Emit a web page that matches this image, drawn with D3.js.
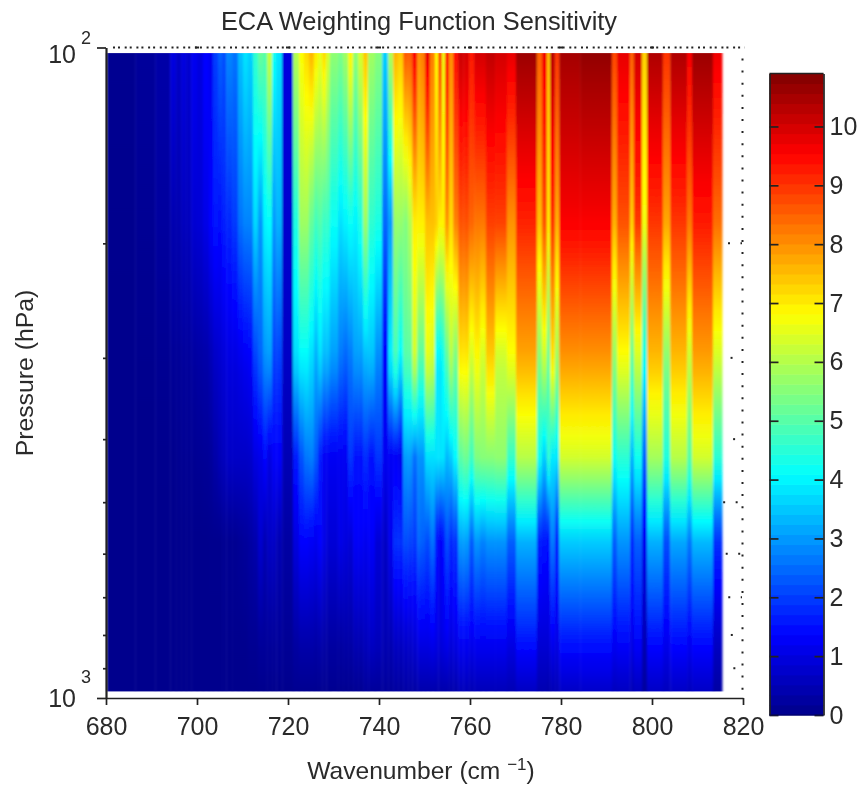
<!DOCTYPE html>
<html>
<head>
<meta charset="utf-8">
<script src="https://cdn.jsdelivr.net/npm/d3@7"></script>
<style>
  html, body { margin: 0; padding: 0; background: #fff; }
  svg { display: block; }
  text { font-family: "Liberation Sans", Arial, sans-serif; fill: #2a2a2a; }
</style>
</head>
<body>
<div id="chart"></div>
<script>
const titleText = 'ECA Weighting Function Sensitivity'
const yLabelText = 'Pressure (hPa)'
const xTicks = [680, 700, 720, 740, 760, 780, 800, 820]
const yMinorTicks = [200, 300, 400, 500, 600, 700, 800, 900]
const colorTicks = [0, 1, 2, 3, 4, 5, 6, 7, 8, 9, 10]
const colorMax = 10.9

// channel edges (cm-1), one more than the number of channels
const channelEdges = [
  680.2, 686.4, 690.8, 694.1, 695.4, 696.5, 697.6, 698.7, 700.0, 701.3,
  702.6, 703.5, 704.6, 705.5, 706.4, 707.7, 709.0, 710.1, 711.2, 712.3,
  713.4, 714.5, 715.4, 716.5, 717.4, 718.7, 721.1, 722.4, 723.5, 724.6,
  725.7, 726.6, 727.5, 728.4, 729.2, 731.0, 732.1, 733.2, 734.3, 735.4,
  736.5, 737.6, 739.1, 740.7, 742.0, 743.1, 744.2, 745.3, 746.4, 747.3,
  748.4, 749.2, 750.1, 751.2, 752.3, 753.0, 753.8, 754.5, 755.4, 756.3,
  757.4, 758.5, 759.8, 760.9, 762.2, 763.5, 765.5, 768.1, 770.1, 774.7,
  775.8, 776.9, 777.6, 778.7, 779.6, 784.2, 791.2, 792.3, 795.2, 796.0,
  797.8, 798.9, 802.4, 804.0, 807.7, 808.8, 813.4, 815.4
]

// pressure levels (hPa) the rows below were read at
const levels = [102, 184, 303, 430, 570, 814, 977]

const level102 = [
  0.08, 0.2, 0.35, 1.0, 0.7, 1.0, 0.8, 1.2, 1.0, 1.4,
  1.2, 2.0, 2.4, 2.2, 2.8, 2.6, 3.4, 3.8, 3.6, 4.6,
  5.2, 5.0, 6.2, 4.2, 3.8, 1.0, 6.0, 6.8, 7.2, 7.6,
  7.0, 6.6, 7.2, 6.4, 5.6, 5.4, 5.8, 6.9, 5.6, 6.4,
  7.4, 5.8, 5.5, 3.6, 6.0, 7.6, 7.4, 8.6, 8.6, 9.6,
  8.0, 8.2, 9.8, 8.2, 6.8, 9.0, 6.6, 9.5, 8.0, 9.4,
  10.1, 10.0, 9.3, 10.0, 10.0, 10.2, 10.0, 9.8, 10.6, 8.5,
  9.7, 7.5, 10.3, 9.0, 10.5, 10.7, 8.8, 9.8, 8.5, 10.0,
  7.3, 10.4, 9.0, 10.4, 9.6, 10.6, 9.7
]
const level184 = [
  0.05, 0.12, 0.25, 0.45, 0.45, 0.6, 0.6, 0.85, 0.9, 1.1,
  1.4, 1.6, 1.5, 1.7, 1.8, 2.0, 2.6, 2.8, 2.8, 3.7,
  3.0, 4.0, 4.1, 3.0, 3.3, 0.8, 4.4, 5.8, 5.8, 5.2,
  4.8, 5.0, 4.7, 4.7, 4.2, 3.8, 4.0, 4.2, 4.0, 4.4,
  5.8, 4.6, 4.4, 2.5, 3.0, 5.7, 5.7, 5.5, 6.0, 7.0,
  7.0, 7.0, 7.5, 7.5, 7.4, 7.0, 7.0, 8.0, 7.2, 8.2,
  8.7, 8.7, 8.5, 8.3, 8.3, 8.9, 8.9, 8.0, 9.2, 7.5,
  8.7, 7.0, 9.0, 7.7, 9.6, 9.6, 7.7, 8.7, 7.3, 9.0,
  6.7, 9.0, 7.8, 9.0, 8.3, 9.3, 8.4
]
const level303 = [
  0.03, 0.05, 0.1, 0.15, 0.15, 0.2, 0.2, 0.25, 0.3, 0.35,
  0.5, 0.7, 0.8, 0.9, 1.0, 1.0, 1.1, 1.2, 1.3, 2.0,
  2.4, 2.9, 3.0, 2.0, 2.0, 0.7, 3.7, 4.0, 4.0, 3.7,
  3.2, 3.7, 3.3, 3.3, 3.0, 2.6, 2.4, 2.6, 3.0, 3.0,
  3.3, 3.4, 2.8, 1.3, 4.0, 4.8, 4.0, 5.0, 5.0, 6.3,
  5.0, 5.0, 6.5, 6.3, 3.9, 3.8, 4.2, 5.0, 6.0, 5.3,
  7.0, 7.0, 6.3, 6.8, 6.3, 7.3, 6.2, 6.7, 7.7, 5.5,
  6.2, 5.0, 7.0, 5.7, 7.9, 7.9, 5.6, 6.7, 5.0, 6.3,
  4.2, 7.5, 5.5, 7.5, 6.2, 7.8, 6.3
]
const level430 = [
  0.03, 0.03, 0.05, 0.05, 0.08, 0.1, 0.1, 0.1, 0.12, 0.15,
  0.2, 0.35, 0.5, 0.6, 0.7, 0.7, 0.7, 0.7, 0.75, 1.0,
  1.1, 1.4, 1.0, 1.3, 1.3, 0.5, 1.6, 2.2, 2.6, 2.7,
  2.3, 1.6, 1.2, 1.2, 1.2, 1.2, 1.2, 1.9, 1.5, 1.5,
  1.8, 1.5, 1.9, 1.2, 1.2, 1.2, 1.1, 3.0, 3.0, 2.5,
  2.9, 2.9, 3.7, 3.7, 3.8, 3.8, 3.8, 3.3, 3.5, 4.0,
  5.0, 5.2, 4.7, 5.4, 5.5, 5.5, 5.6, 4.6, 6.0, 4.2,
  3.5, 4.6, 3.8, 3.8, 6.3, 6.3, 4.2, 4.5, 3.2, 4.2,
  2.4, 5.8, 4.4, 6.0, 5.0, 6.3, 4.5
]
const level570 = [
  0.03, 0.03, 0.03, 0.03, 0.03, 0.03, 0.03, 0.03, 0.03, 0.03,
  0.05, 0.05, 0.05, 0.1, 0.1, 0.1, 0.15, 0.2, 0.3, 0.4,
  0.8, 0.5, 0.7, 0.7, 0.5, 0.3, 1.0, 1.4, 1.4, 1.3,
  1.2, 1.4, 1.1, 0.9, 0.9, 1.1, 1.0, 0.9, 1.3, 1.3,
  1.2, 1.3, 0.9, 0.7, 1.2, 1.9, 1.9, 2.2, 2.1, 2.0,
  2.5, 2.4, 2.2, 2.6, 1.5, 1.3, 1.5, 2.2, 1.8, 1.9,
  3.1, 3.1, 2.4, 3.0, 2.8, 3.0, 3.0, 2.4, 3.3, 1.7,
  1.6, 1.5, 2.7, 1.6, 3.6, 3.6, 2.4, 3.0, 1.7, 2.4,
  1.2, 3.3, 2.2, 3.2, 2.7, 3.4, 1.9
]
const level814 = [
  0.03, 0.03, 0.03, 0.03, 0.03, 0.03, 0.03, 0.03, 0.03, 0.03,
  0.03, 0.03, 0.03, 0.05, 0.05, 0.05, 0.05, 0.05, 0.1, 0.1,
  0.2, 0.2, 0.2, 0.2, 0.2, 0.15, 0.3, 0.4, 0.4, 0.4,
  0.35, 0.4, 0.35, 0.3, 0.3, 0.3, 0.35, 0.35, 0.5, 0.5,
  0.6, 0.7, 0.6, 0.5, 0.5, 0.7, 0.7, 0.8, 0.8, 0.9,
  1.1, 1.1, 1.1, 1.2, 1.1, 1.0, 1.1, 1.2, 1.0, 1.1,
  1.3, 1.3, 1.2, 1.3, 1.3, 1.3, 1.3, 1.1, 1.6, 0.9,
  0.9, 0.9, 1.2, 1.1, 1.6, 1.6, 1.3, 1.4, 1.1, 1.4,
  0.5, 1.5, 1.2, 1.5, 1.3, 1.5, 0.7
]
const level977 = [
  0.03, 0.03, 0.03, 0.03, 0.03, 0.03, 0.03, 0.03, 0.03, 0.03,
  0.03, 0.03, 0.03, 0.03, 0.03, 0.03, 0.03, 0.03, 0.03, 0.03,
  0.05, 0.05, 0.05, 0.05, 0.05, 0.05, 0.08, 0.08, 0.08, 0.08,
  0.08, 0.08, 0.08, 0.08, 0.08, 0.08, 0.08, 0.08, 0.1, 0.1,
  0.2, 0.2, 0.2, 0.2, 0.2, 0.25, 0.25, 0.3, 0.3, 0.3,
  0.4, 0.4, 0.4, 0.4, 0.4, 0.4, 0.4, 0.4, 0.4, 0.4,
  0.55, 0.55, 0.5, 0.55, 0.55, 0.55, 0.55, 0.5, 0.65, 0.45,
  0.45, 0.4, 0.5, 0.5, 0.7, 0.75, 0.6, 0.65, 0.5, 0.6,
  0.25, 0.7, 0.6, 0.7, 0.6, 0.7, 0.3
]
const levelRows = [level102, level184, level303, level430, level570, level814, level977]

const width = 859
const height = 787
const axisColor = '#222'

const xScale = d3.scaleLinear().domain([680, 820]).range([106, 743])
const yScale = d3.scaleLog().domain([1000, 100]).range([698, 47.5])
const cScale = d3.scaleLinear().domain([0, colorMax]).range([715, 73.5])

// jet
const jet = d3.scaleLinear()
  .domain([0, 0.125, 0.375, 0.625, 0.875, 1].map(t => t * colorMax))
  .range(['#00008a', '#0000ff', '#00ffff', '#ffff00', '#ff0000', '#800000'])
  .clamp(true)

const svg = d3.select('#chart').append('svg')
  .attr('width', width)
  .attr('height', height)

const defs = svg.append('defs')
const blur = defs.append('filter')
  .attr('id', 'soft')
  .attr('x', '-2%').attr('width', '104%')
  .attr('y', '-2%').attr('height', '104%')
blur.append('feGaussianBlur').attr('stdDeviation', '1 0.4')
defs.append('filter')
  .attr('id', 'softText')
  .append('feGaussianBlur').attr('stdDeviation', 0.35)

//
// heat map, one vertically shaded rect per channel
const imageTop = levels[0]
const imageBottom = levels[levels.length - 1]
const shadeSteps = d3.range(0, 1.0001, 1 / 30)
const channels = channelEdges.slice(0, -1).map((edge, i) => ({
  id: i,
  x0: edge,
  x1: channelEdges[i + 1],
  profile: d3.scaleLog().domain(levels).range(levelRows.map(row => row[i]))
}))

const gradients = defs.selectAll('linearGradient')
  .data(channels)
  .join('linearGradient')
  .attr('id', d => `channel${d.id}`)
  .attr('gradientUnits', 'userSpaceOnUse')
  .attr('x1', 0).attr('x2', 0)
  .attr('y1', yScale(imageTop))
  .attr('y2', yScale(imageBottom))

gradients.selectAll('stop')
  .data(d => shadeSteps.map(t => {
    const p = yScale.invert(yScale(imageTop) + t * (yScale(imageBottom) - yScale(imageTop)))
    return { t, color: jet(d.profile(p)) }
  }))
  .join('stop')
  .attr('offset', d => d.t)
  .attr('stop-color', d => d.color)

svg.append('g')
  .attr('filter', 'url(#soft)')
  .selectAll('rect')
  .data(channels)
  .join('rect')
  .attr('x', d => xScale(d.x0))
  .attr('y', yScale(imageTop))
  .attr('width', d => xScale(d.x1) - xScale(d.x0) + 0.4)
  .attr('height', yScale(imageBottom) - yScale(imageTop))
  .attr('fill', d => `url(#channel${d.id})`)

//
// dotted box and grid remains
const dotted = svg.append('g')
  .attr('stroke', '#222')
  .attr('stroke-width', 2)
  .attr('fill', 'none')

// two dotted lines share the top edge, which is why the dots come in pairs
dotted.selectAll('line.top')
  .data([0, 5])
  .join('line')
  .attr('class', 'top')
  .attr('x1', d => xScale(680) + 7 + d)
  .attr('x2', xScale(820) + 2)
  .attr('y1', yScale(100))
  .attr('y2', yScale(100))
  .attr('stroke-dasharray', '2 9.7')

dotted.append('line')
  .attr('x1', xScale(820) - 0.5)
  .attr('x2', xScale(820) - 0.5)
  .attr('y1', yScale(100) + 11)
  .attr('y2', yScale(1000))
  .attr('stroke-dasharray', '2 10.1')

dotted.selectAll('line.xgrid')
  .data(xTicks.slice(1, -1))
  .join('line')
  .attr('class', 'xgrid')
  .attr('x1', d => xScale(d) - 2)
  .attr('x2', d => xScale(d) + 2)
  .attr('y1', yScale(100))
  .attr('y2', yScale(100))

// dotted minor grid, only visible to the right of the image
dotted.selectAll('line.ygrid')
  .data(yMinorTicks)
  .join('line')
  .attr('class', 'ygrid')
  .attr('x1', (d, i) => 722.5 + (5.5 + 2.55 * i) % 12.5)
  .attr('x2', xScale(820) - 1)
  .attr('y1', d => yScale(d))
  .attr('y2', d => yScale(d))
  .attr('stroke-dasharray', '2 10.5')

//
// axes
function styleAxis (g) {
  g.selectAll('path, line').attr('stroke', axisColor).attr('stroke-width', 1.7)
  g.selectAll('text').attr('font-size', 25).attr('fill', '#2a2a2a')
  g.attr('font-family', null)
}

svg.append('g')
  .attr('transform', `translate(0,${yScale(1000)})`)
  .call(d3.axisBottom(xScale).tickValues(xTicks).tickSize(7).tickSizeOuter(0).tickPadding(12))
  .call(styleAxis)

const yAxisMajor = svg.append('g')
  .attr('transform', `translate(${xScale(680)},0)`)
  .call(d3.axisLeft(yScale).tickValues([100, 1000]).tickSize(9).tickSizeOuter(0).tickPadding(21).tickFormat(() => '10'))
  .call(styleAxis)

yAxisMajor.selectAll('.tick text')
  .attr('dy', (d) => d === 100 ? '0.6em' : '0.32em')

yAxisMajor.selectAll('.tick')
  .append('text')
  .attr('x', -20)
  .attr('y', d => d === 100 ? -10 : -21)
  .attr('text-anchor', 'middle')
  .attr('font-size', 18)
  .attr('dy', '0.32em')
  .text(d => d === 100 ? '2' : '3')

svg.append('g')
  .attr('transform', `translate(${xScale(680)},0)`)
  .call(d3.axisLeft(yScale).tickValues(yMinorTicks).tickSize(3).tickSizeOuter(0).tickFormat(''))
  .call(styleAxis)

//
// colour bar
const barLeft = 769.5
const barRight = 823.5
const barSteps = d3.range(64)

svg.append('g')
  .selectAll('rect')
  .data(barSteps)
  .join('rect')
  .attr('x', barLeft)
  .attr('width', barRight - barLeft)
  .attr('y', d => cScale((d + 1) / 64 * colorMax))
  .attr('height', d => cScale(d / 64 * colorMax) - cScale((d + 1) / 64 * colorMax) + 0.5)
  .attr('fill', d => jet((d + 0.5) / 64 * colorMax))

svg.append('g')
  .attr('transform', `translate(${barLeft},0)`)
  .call(d3.axisLeft(cScale).tickValues(colorTicks).tickSize(-9).tickSizeOuter(0).tickFormat(''))
  .call(styleAxis)

svg.append('g')
  .attr('transform', `translate(${barRight},0)`)
  .call(d3.axisRight(cScale).tickValues(colorTicks).tickSize(-9).tickSizeOuter(0).tickPadding(6))
  .call(styleAxis)

svg.append('line')
  .attr('x1', barLeft).attr('x2', barRight)
  .attr('y1', cScale(colorMax)).attr('y2', cScale(colorMax))
  .attr('stroke', axisColor).attr('stroke-width', 1.5)

svg.append('line')
  .attr('x1', barLeft).attr('x2', barRight)
  .attr('y1', cScale(0)).attr('y2', cScale(0))
  .attr('stroke', '#000060').attr('stroke-width', 1)

//
// labels
svg.append('text')
  .attr('x', 419)
  .attr('y', 30)
  .attr('text-anchor', 'middle')
  .attr('font-size', 25.4)
  .text(titleText)

const xLabel = svg.append('text')
  .attr('x', 421)
  .attr('y', 779)
  .attr('text-anchor', 'middle')
  .attr('font-size', 24.6)
xLabel.append('tspan').text('Wavenumber (cm ')
xLabel.append('tspan').attr('dy', -9).attr('font-size', 17).text('−1')
xLabel.append('tspan').attr('dy', 9).text(')')

svg.append('text')
  .attr('transform', 'translate(33,373) rotate(-90)')
  .attr('text-anchor', 'middle')
  .attr('font-size', 24.8)
  .text(yLabelText)

svg.selectAll('text').attr('filter', 'url(#softText)')
</script>
</body>
</html>
